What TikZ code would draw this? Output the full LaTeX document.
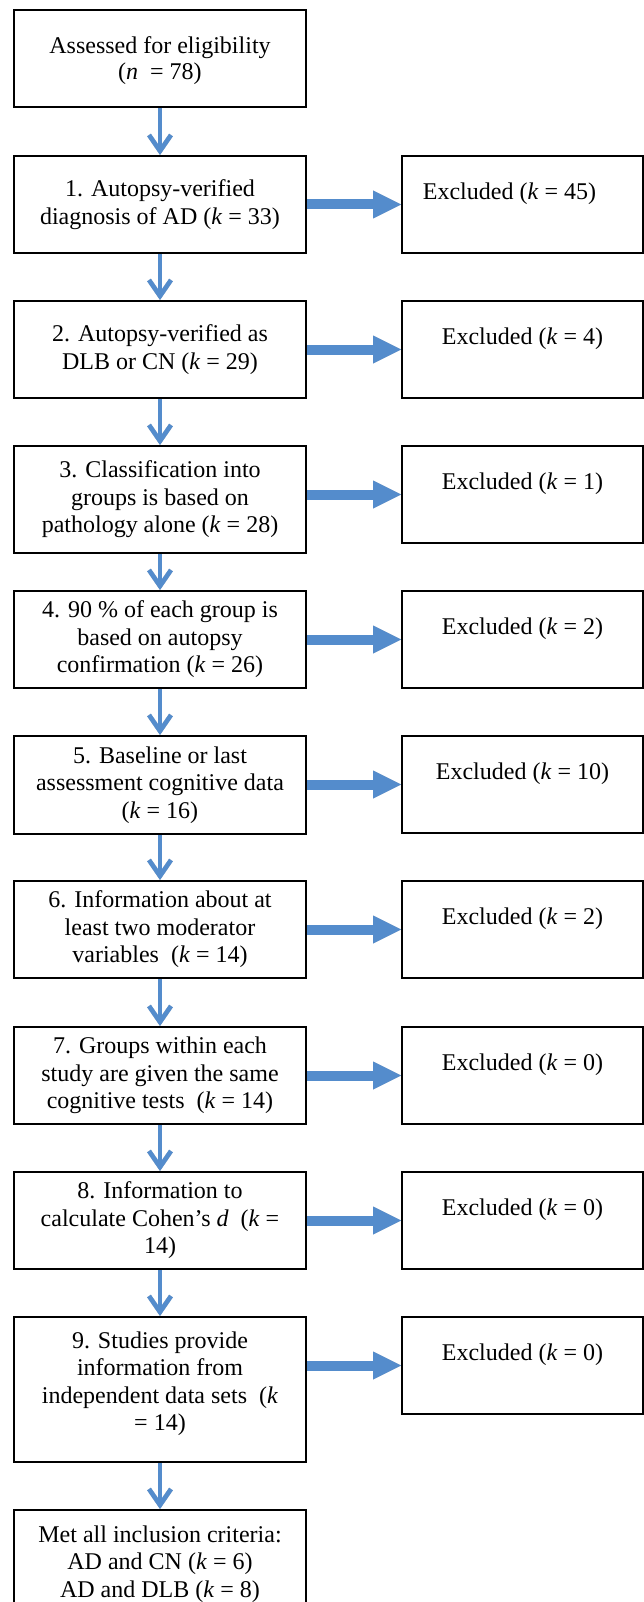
\documentclass[tikz,border=0pt]{standalone}
\usepackage{fontspec}
\setmainfont{Liberation Serif}
\usetikzlibrary{arrows.meta,backgrounds}
\definecolor{arrowblue}{RGB}{84,140,204}
\definecolor{shadowgray}{RGB}{205,205,205}
\tikzset{
  box/.style={draw=black, line width=1.9pt, minimum width=292pt, minimum height=97pt,
    align=center, inner sep=0pt, font=\fontsize{24}{27.5}\selectfont},
  rbox/.style={box, minimum width=241pt},
  downarrow/.style={draw=arrowblue, line width=4.6pt, -{Straight Barb[length=16pt,width=22pt]}},
  downshadow/.style={downarrow, draw=shadowgray},
  sidearrow/.style={draw=arrowblue, line width=10pt, -{Triangle[length=28pt,width=28pt,line width=0pt]}},
  sideshadow/.style={sidearrow, draw=shadowgray}
}
\begin{document}
\begin{tikzpicture}[x=1pt,y=-1pt]
\useasboundingbox (0,0) rectangle (644,1602);
% left column
\node[box, font=\fontsize{24}{26}\selectfont] (b0) at (160,58.5) {\rule{0pt}{21pt}Assessed for eligibility\\(\textit{n}\ \ = 78)};
\node[box] (b1) at (160,204.5) {1. Autopsy-verified\\diagnosis of AD (\textit{k} = 33)};
\node[box] (b2) at (160,349.5) {2. Autopsy-verified as\\DLB or CN (\textit{k} = 29)};
\node[box, minimum height=107pt] (b3) at (160,499.5) {3. Classification into\\groups is based on\\pathology alone (\textit{k} = 28)};
\node[box] (b4) at (160,639.5) {4. 90 \% of each group is\\based on autopsy\\confirmation (\textit{k} = 26)};
\node[box, minimum height=98pt] (b5) at (160,785) {5. Baseline or last\\assessment cognitive data\\(\textit{k} = 16)};
\node[box] (b6) at (160,929.5) {6. Information about at\\least two moderator\\variables\ \ (\textit{k} = 14)};
\node[box] (b7) at (160,1075.5) {7. Groups within each\\study are given the same\\cognitive tests\ \ (\textit{k} = 14)};
\node[box] (b8) at (160,1220.5) {8. Information to\\calculate Cohen’s \textit{d}\ \ (\textit{k} =\\14)};
\node[box, minimum height=145pt] (b9) at (160,1389.5) {9. Studies provide\\information from\\independent data sets\ \ (\textit{k}\\= 14)\\[-11pt]\mbox{}};
\node[box, minimum height=108pt] (b10) at (160,1564) {Met all inclusion criteria:\\AD and CN (\textit{k} = 6)\\AD and DLB (\textit{k} = 8)};
% right column
\node[rbox] (r1) at (522.5,204.5) {Excluded (\textit{k} = 45)\hspace*{26pt}\\\mbox{}};
\node[rbox] (r2) at (522.5,349.5) {Excluded (\textit{k} = 4)\\\mbox{}};
\node[rbox] (r3) at (522.5,494.5) {Excluded (\textit{k} = 1)\\\mbox{}};
\node[rbox] (r4) at (522.5,639.5) {Excluded (\textit{k} = 2)\\\mbox{}};
\node[rbox] (r5) at (522.5,784.5) {Excluded (\textit{k} = 10)\\\mbox{}};
\node[rbox] (r6) at (522.5,929.5) {Excluded (\textit{k} = 2)\\\mbox{}};
\node[rbox] (r7) at (522.5,1075.5) {Excluded (\textit{k} = 0)\\\mbox{}};
\node[rbox] (r8) at (522.5,1220.5) {Excluded (\textit{k} = 0)\\\mbox{}};
\node[rbox] (r9) at (522.5,1365.5) {Excluded (\textit{k} = 0)\\\mbox{}};
\begin{scope}[on background layer]
\fill[white] (0,0) rectangle (644,1602);
% vertical arrows
\foreach \a/\b in {b0/b1,b1/b2,b2/b3,b3/b4,b4/b5,b5/b6,b6/b7,b7/b8,b8/b9,b9/b10}{
  \draw[downshadow, shift={(2,1.5)}] (\a.south) -- (\b.north);
  \draw[downarrow] (\a.south) -- (\b.north);
}
% horizontal arrows
\foreach \i in {1,...,9}{
  \draw[sideshadow, shift={(1.5,4.5)}] (b\i.east |- r\i.west) -- (r\i.west);
  \draw[sidearrow] (b\i.east |- r\i.west) -- (r\i.west);
}
\end{scope}
\end{tikzpicture}
\end{document}
